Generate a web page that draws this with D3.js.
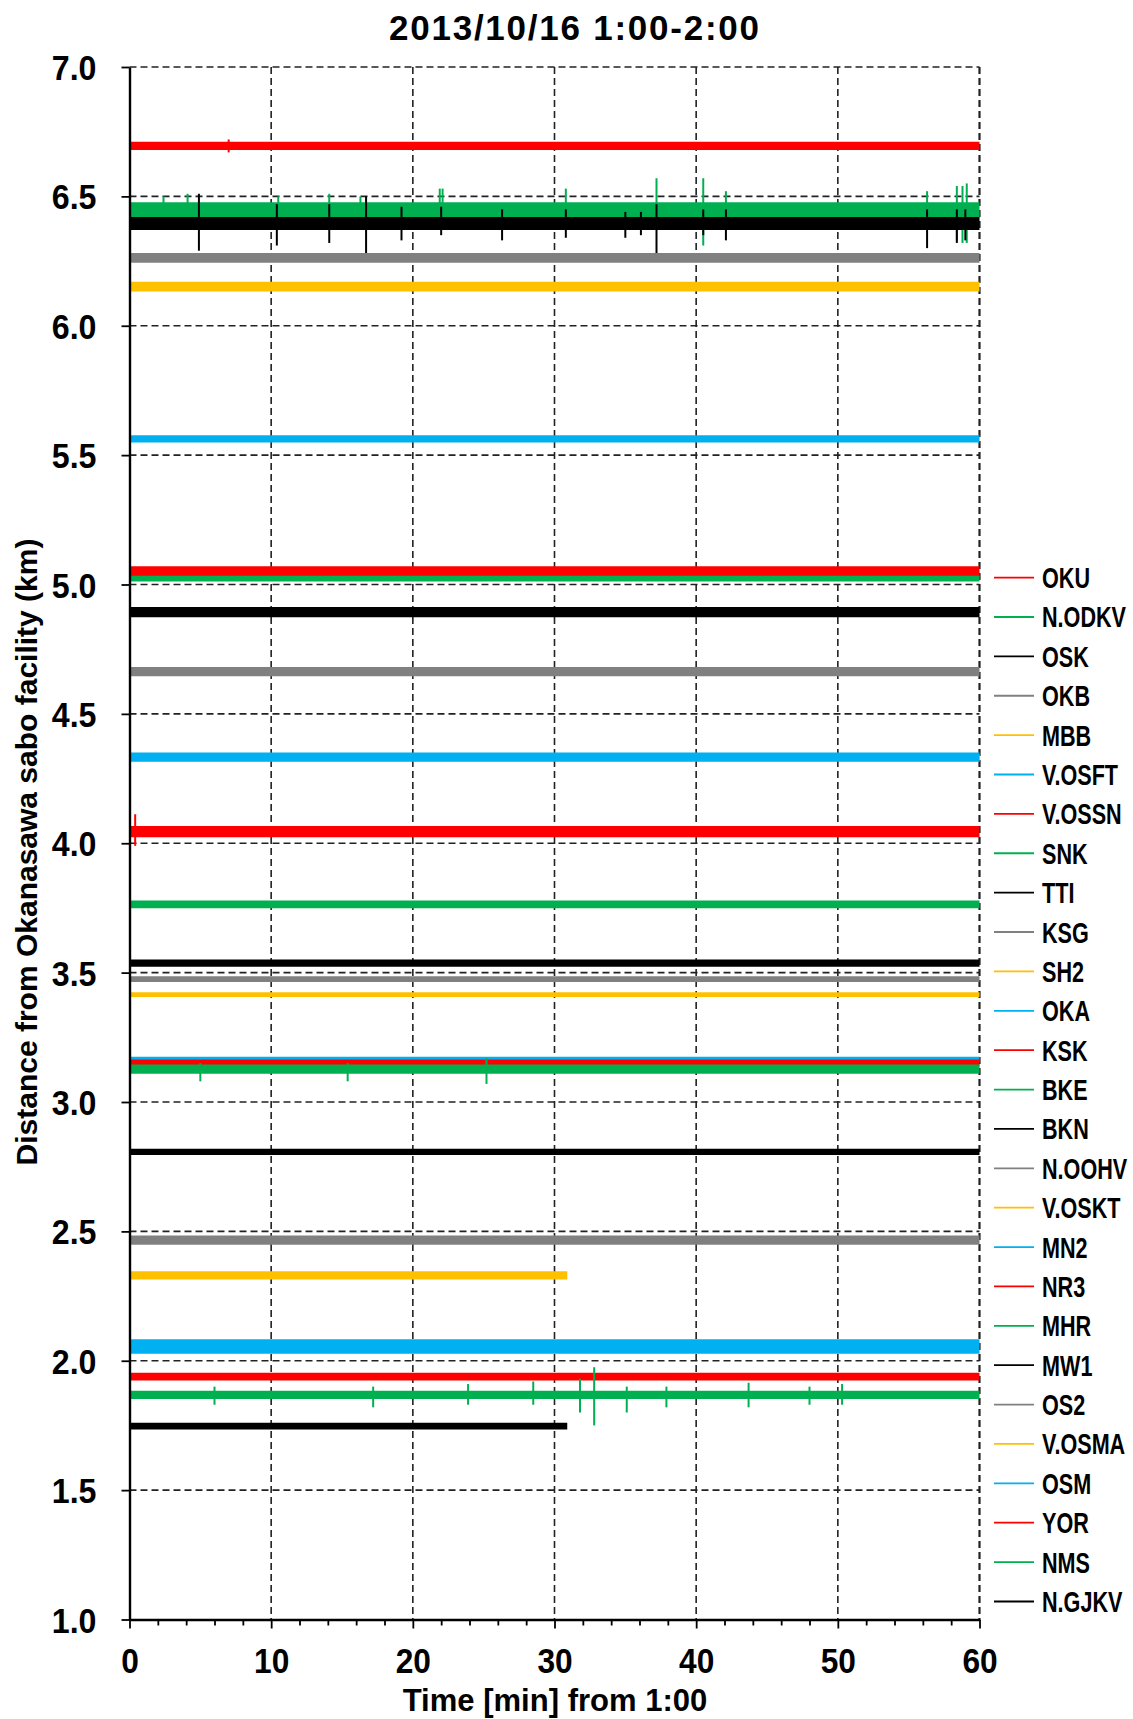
<!DOCTYPE html>
<html>
<head>
<meta charset="utf-8">
<script src="https://cdn.jsdelivr.net/npm/d3@7"></script>
<style>
	body { margin: 0; background: #fff; }
	svg text { font-family: 'Liberation Sans', Arial, sans-serif; font-weight: bold; fill: #000; }
</style>
</head>
<body>
<div id="chart"></div>
<script>
// station list, in legend order
var stationNames = ['OKU', 'N.ODKV', 'OSK', 'OKB', 'MBB', 'V.OSFT', 'V.OSSN', 'SNK', 'TTI', 'KSG', 'SH2', 'OKA', 'KSK', 'BKE',
	'BKN', 'N.OOHV', 'V.OSKT', 'MN2', 'NR3', 'MHR', 'MW1', 'OS2', 'V.OSMA', 'OSM', 'YOR', 'NMS', 'N.GJKV'];

// distance from Okanasawa sabo facility (km)
var distances = [6.695, 6.447, 6.395, 6.262, 6.151, 5.563, 5.051, 5.023, 4.893, 4.663, 4.33, 4.333, 4.045, 3.764,
	3.537, 3.475, 3.415, 3.166, 3.151, 3.127, 2.807, 2.466, 2.33, 2.055, 1.939, 1.868, 1.747];

// half width of the noise band (km)
var noiseAmps = [0.016, 0.030, 0.025, 0.019, 0.019, 0.014, 0.020, 0.011, 0.020, 0.018, 0.013, 0.018, 0.022, 0.015,
	0.014, 0.011, 0.009, 0.009, 0.013, 0.018, 0.012, 0.018, 0.016, 0.028, 0.015, 0.016, 0.013];

// last minute with a record
var endTimes = [60, 60, 60, 60, 60, 60, 60, 60, 60, 60, 60, 60, 60, 60,
	60, 60, 60, 60, 60, 60, 60, 60, 30.9, 60, 60, 60, 30.9];

// larger spikes: station, minute, low, high
var spikeStations = ['OKU',
	'N.ODKV', 'N.ODKV', 'N.ODKV', 'N.ODKV', 'N.ODKV', 'N.ODKV', 'N.ODKV', 'N.ODKV', 'N.ODKV', 'N.ODKV', 'N.ODKV', 'N.ODKV', 'N.ODKV', 'N.ODKV', 'N.ODKV',
	'OSK', 'OSK', 'OSK', 'OSK', 'OSK', 'OSK', 'OSK', 'OSK', 'OSK', 'OSK', 'OSK', 'OSK', 'OSK', 'OSK', 'OSK', 'OSK',
	'KSK', 'MHR', 'MHR', 'MHR',
	'NMS', 'NMS', 'NMS', 'NMS', 'NMS', 'NMS', 'NMS', 'NMS', 'NMS', 'NMS', 'NMS'];
var spikeTimes = [7.0,
	2.4, 4.1, 10.5, 14.1, 16.3, 21.9, 22.1, 30.8, 37.2, 40.5, 42.1, 56.3, 58.4, 58.8, 59.1,
	4.9, 10.4, 14.1, 16.7, 19.2, 22.0, 26.3, 30.8, 35.0, 36.1, 37.2, 40.5, 42.1, 56.3, 58.4, 59.0,
	0.4, 5.0, 15.4, 25.2,
	6.0, 17.2, 23.9, 28.5, 31.8, 32.8, 35.1, 37.9, 43.7, 48.0, 50.3];
var spikeLows = [6.67,
	6.42, 6.42, 6.42, 6.42, 6.42, 6.42, 6.42, 6.42, 6.40, 6.31, 6.40, 6.42, 6.33, 6.32, 6.32,
	6.29, 6.31, 6.32, 6.28, 6.33, 6.35, 6.33, 6.34, 6.34, 6.35, 6.27, 6.35, 6.33, 6.30, 6.32, 6.33,
	3.99, 3.08, 3.08, 3.07,
	1.83, 1.82, 1.83, 1.83, 1.80, 1.75, 1.80, 1.82, 1.82, 1.83, 1.83];
var spikeHighs = [6.72,
	6.50, 6.51, 6.50, 6.51, 6.50, 6.53, 6.53, 6.53, 6.57, 6.57, 6.52, 6.52, 6.54, 6.54, 6.55,
	6.51, 6.47, 6.47, 6.50, 6.46, 6.46, 6.45, 6.45, 6.44, 6.44, 6.47, 6.45, 6.45, 6.45, 6.45, 6.45,
	4.112, 3.15, 3.15, 3.17,
	1.90, 1.90, 1.91, 1.92, 1.93, 1.975, 1.90, 1.90, 1.915, 1.90, 1.91];

// axis ticks
var xTicks = [0, 10, 20, 30, 40, 50, 60];
var xMinorTicks = [2, 4, 6, 8, 12, 14, 16, 18, 22, 24, 26, 28, 32, 34, 36, 38, 42, 44, 46, 48, 52, 54, 56, 58];
var yTicks = [1.0, 1.5, 2.0, 2.5, 3.0, 3.5, 4.0, 4.5, 5.0, 5.5, 6.0, 6.5, 7.0];

var chartTitle = '2013/10/16 1:00-2:00';
var xTitle = 'Time [min] from 1:00';
var yTitle = 'Distance from Okanasawa sabo facility (km)';

// colours repeat in this order down the legend
var palette = ['#ff0000', '#00b050', '#000000', '#808080', '#ffc000', '#00b0f0'];

initTraceChart();

// trace chart init
function initTraceChart() {
	var width = 1133;
	var height = 1719;
	var plot = {
		left: 129.5,
		right: 979.5,
		top: 67,
		bottom: 1619.5
	};
	var gridDash = '7,4';

	var svg = d3.select('#chart')
		.append('svg')
		.attr('width', width)
		.attr('height', height)
		.style('display', 'block');

	svg.append('rect')
		.attr('width', width)
		.attr('height', height)
		.attr('fill', '#fff');

	var xScale = d3.scaleLinear()
		.domain([0, 60])
		.range([plot.left, plot.right]);

	var yScale = d3.scaleLinear()
		.domain([1, 7])
		.range([plot.bottom, plot.top]);

	// dashed grid, also closes the top and right of the box
	svg.append('g')
		.selectAll('line')
		.data(yTicks.slice(1))
		.enter()
		.append('line')
		.attr('x1', plot.left)
		.attr('x2', plot.right)
		.attr('y1', function(d) { return yScale(d); })
		.attr('y2', function(d) { return yScale(d); })
		.attr('stroke', '#222')
		.attr('stroke-width', 1.6)
		.attr('stroke-dasharray', gridDash);

	svg.append('g')
		.selectAll('line')
		.data(xTicks.slice(1))
		.enter()
		.append('line')
		.attr('x1', function(d) { return xScale(d); })
		.attr('x2', function(d) { return xScale(d); })
		.attr('y1', plot.top)
		.attr('y2', plot.bottom)
		.attr('stroke', '#222')
		.attr('stroke-width', function(d) { return d === 60 ? 2.2 : 1.6; })
		.attr('stroke-dasharray', gridDash);

	// traces
	var band = d3.area()
		.x(function(d) { return xScale(d.t); })
		.y0(function(d) { return yScale(d.lo); })
		.y1(function(d) { return yScale(d.hi); });

	var traces = svg.append('g')
		.selectAll('g')
		.data(stationNames)
		.enter()
		.append('g')
		.attr('class', 'trace');

	traces.append('path')
		.attr('fill', function(d, i) { return palette[i % palette.length]; })
		.attr('d', function(d, i) {
			var lo = distances[i] - noiseAmps[i];
			var hi = distances[i] + noiseAmps[i];

			return band([
				{ t: 0, lo: lo, hi: hi },
				{ t: endTimes[i], lo: lo, hi: hi }
			]);
		});

	traces.each(function(name, i) {
		var spikes = [];

		spikeStations.forEach(function(s, k) {
			if (s === name) {
				spikes.push(k);
			}
		});

		d3.select(this)
			.selectAll('line')
			.data(spikes)
			.enter()
			.append('line')
			.attr('x1', function(k) { return xScale(spikeTimes[k]); })
			.attr('x2', function(k) { return xScale(spikeTimes[k]); })
			.attr('y1', function(k) { return yScale(spikeLows[k]); })
			.attr('y2', function(k) { return yScale(spikeHighs[k]); })
			.attr('stroke', palette[i % palette.length])
			.attr('stroke-width', 2);
	});

	// axes
	var yAxis = svg.append('g')
		.attr('transform', 'translate(' + plot.left + ',0)')
		.call(d3.axisLeft(yScale)
			.tickValues(yTicks)
			.tickSize(8)
			.tickSizeOuter(0)
			.tickFormat(d3.format('.1f')));

	var xAxis = svg.append('g')
		.attr('transform', 'translate(0,' + plot.bottom + ')')
		.call(d3.axisBottom(xScale)
			.tickValues(xTicks)
			.tickSize(9)
			.tickSizeOuter(0)
			.tickFormat(d3.format('d')));

	svg.append('g')
		.attr('transform', 'translate(0,' + plot.bottom + ')')
		.call(d3.axisBottom(xScale)
			.tickValues(xMinorTicks)
			.tickSize(6)
			.tickSizeOuter(0)
			.tickFormat(''))
		.select('.domain').remove();

	svg.selectAll('.domain')
		.attr('stroke', '#000')
		.attr('stroke-width', 2.4);

	svg.selectAll('.tick line')
		.attr('stroke', '#000')
		.attr('stroke-width', 1.8);

	yAxis.selectAll('.tick text')
		.attr('font-size', 35)
		.attr('font-family', null)
		.attr('x', -33 / 0.92)
		.attr('dy', '0.36em')
		.attr('transform', 'scale(0.92,1)');

	xAxis.selectAll('.tick text')
		.attr('font-size', 36)
		.attr('font-family', null)
		.attr('y', 28)
		.attr('dy', '0.71em')
		.attr('transform', 'scale(0.88,1)');

	// titles
	svg.append('text')
		.attr('x', 389)
		.attr('y', 40)
		.attr('font-size', 35)
		.attr('textLength', 370)
		.attr('lengthAdjust', 'spacing')
		.text(chartTitle);

	svg.append('text')
		.attr('transform', 'translate(555,1711) scale(0.97,1)')
		.attr('text-anchor', 'middle')
		.attr('font-size', 32)
		.text(xTitle);

	svg.append('text')
		.attr('transform', 'translate(37,852) rotate(-90)')
		.attr('text-anchor', 'middle')
		.attr('font-size', 30)
		.text(yTitle);

	// legend
	var legend = svg.append('g')
		.selectAll('g')
		.data(stationNames)
		.enter()
		.append('g')
		.attr('transform', function(d, i) {
			return 'translate(994,' + (577.6 + i * 39.38) + ')';
		});

	legend.append('line')
		.attr('x1', 0)
		.attr('x2', 40)
		.attr('stroke', function(d, i) { return palette[i % palette.length]; })
		.attr('stroke-width', 1.8);

	legend.append('text')
		.attr('transform', 'translate(48,10.5) scale(0.745,1)')
		.attr('font-size', 29)
		.text(function(d) { return d; });
}
</script>
</body>
</html>
